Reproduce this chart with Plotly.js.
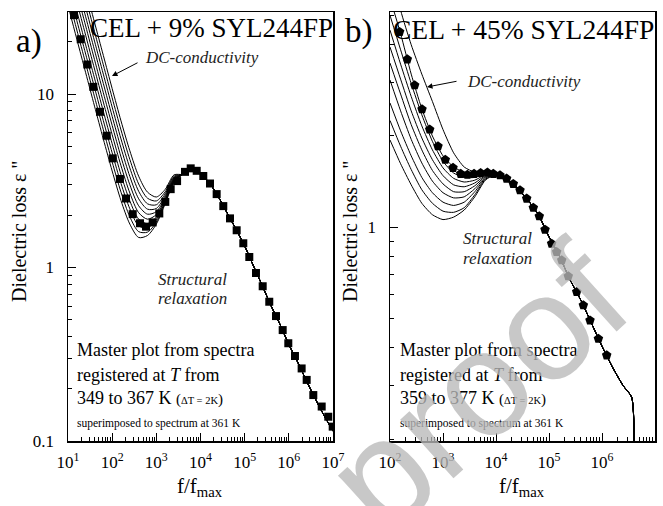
<!DOCTYPE html>
<html>
<head>
<meta charset="utf-8">
<script src="https://cdn.plot.ly/plotly-3.0.1.min.js"></script>
<style>html,body{margin:0;padding:0;background:#fff;}#chart{width:663px;height:506px;}</style>
</head>
<body>
<div id="chart"></div>
<script>
// ---------------- DATA ----------------
// Panel a) CEL + 9% SYL244FP : master curve (squares)
const aMasterX = [13.7, 19.4, 27.4, 37.4, 53.0, 75.2, 103, 150, 206, 292, 427, 583, 828, 1167, 1596, 2113, 2951, 4457, 5998, 8204, 11561, 16406, 23227, 32810, 46559, 65917, 93111, 127350, 180300, 255860, 360580, 511690, 726110, 972800, 1377200, 1949800, 2535000, 3581000, 5546000, 7816000, 9840000];
const aMasterY = [28.5, 20.7, 14.8, 11.0, 7.9, 5.75, 4.26, 3.24, 2.50, 2.03, 1.80, 1.72, 1.82, 2.05, 2.39, 2.83, 3.15, 3.56, 3.73, 3.61, 3.37, 3.05, 2.65, 2.26, 1.92, 1.64, 1.38, 1.15, 0.93, 0.78, 0.635, 0.525, 0.436, 0.366, 0.309, 0.262, 0.225, 0.184, 0.158, 0.138, 0.121];
// Panel a) individual spectra (349 ... 367 K): low-frequency part per spectrum
const aSpecX = [10, 15.85, 25.12, 39.81, 63.1, 100, 158.5, 251.2, 398.1, 631, 1000, 1585, 2512];
const aSpec349 = [32.4, 20.7, 13.27, 8.52, 5.50, 3.60, 2.43, 1.78, 1.49, 1.53, 1.78, 2.33, 3.10];
const aSpec351 = [36.6, 23.4, 15.0, 9.64, 6.22, 4.06, 2.72, 1.96, 1.61, 1.60, 1.83, 2.36, 3.12];
const aSpec353 = [41.5, 26.5, 17.0, 10.91, 7.03, 4.58, 3.05, 2.18, 1.74, 1.69, 1.89, 2.40, 3.15];
const aSpec355 = [47.0, 30.1, 19.2, 12.35, 7.95, 5.17, 3.43, 2.42, 1.90, 1.79, 1.95, 2.44, 3.17];
const aSpec357 = [53.2, 34.0, 21.8, 13.95, 8.99, 5.83, 3.86, 2.69, 2.07, 1.90, 2.02, 2.48, 3.20];
const aSpec359 = [60.3, 38.5, 24.7, 15.8, 10.17, 6.59, 4.34, 3.00, 2.27, 2.03, 2.10, 2.53, 3.23];
const aSpec361 = [68.2, 43.6, 27.9, 17.9, 11.51, 7.44, 4.89, 3.35, 2.49, 2.17, 2.19, 2.59, 3.27];
const aSpec363 = [77.3, 49.4, 31.6, 20.2, 13.02, 8.41, 5.51, 3.75, 2.75, 2.33, 2.30, 2.66, 3.31];
const aSpec365 = [87.5, 56.0, 35.8, 22.9, 14.74, 9.51, 6.21, 4.20, 3.03, 2.51, 2.42, 2.73, 3.36];
const aSpec367 = [99.1, 63.4, 40.6, 25.9, 16.7, 10.75, 7.00, 4.71, 3.36, 2.72, 2.55, 2.82, 3.42];
// Panel a) shared high-frequency (structural relaxation) part of all spectra
const aTailX = [3981, 6310, 10000, 15849, 25119, 39811, 63096, 100000, 158489, 251189, 398107, 630957, 1000000, 1584893, 2511886, 3981072, 6309573, 10000000];
const aTailY = [3.45, 3.72, 3.48, 3.08, 2.57, 2.07, 1.67, 1.33, 1.02, 0.785, 0.60, 0.47, 0.36, 0.285, 0.222, 0.175, 0.14, 0.114];

// Panel b) CEL + 45% SYL244FP : master curve (pentagons)
const bMasterX = [152, 212, 292, 402, 561, 805, 1104, 1545, 2158, 2884, 3855, 5129, 6887, 8892, 11885, 15849, 21184, 28379, 37931, 50582, 65615, 84140, 112200, 139640, 173780, 231200, 333430, 444630, 594300, 855100, 1227000];
const bMasterY = [4.41, 3.58, 2.94, 2.45, 2.10, 1.85, 1.67, 1.57, 1.50, 1.49, 1.50, 1.51, 1.515, 1.50, 1.485, 1.447, 1.39, 1.325, 1.243, 1.16, 1.087, 0.982, 0.883, 0.829, 0.778, 0.689, 0.612, 0.553, 0.493, 0.429, 0.378];
// Panel b) individual spectra (359 ... 377 K): low-frequency part per spectrum
const bSpecX = [100, 158.5, 251.2, 398.1, 631, 1000, 1585, 2512, 3981, 6310];
const bSpec359 = [1.94, 1.62, 1.38, 1.20, 1.10, 1.06, 1.08, 1.14, 1.26, 1.43];
const bSpec361 = [2.25, 1.85, 1.55, 1.33, 1.20, 1.13, 1.12, 1.16, 1.28, 1.44];
const bSpec363 = [2.57, 2.08, 1.72, 1.46, 1.30, 1.21, 1.18, 1.21, 1.31, 1.45];
const bSpec365 = [3.06, 2.42, 1.95, 1.63, 1.42, 1.30, 1.25, 1.26, 1.34, 1.46];
const bSpec367 = [3.48, 2.75, 2.18, 1.80, 1.54, 1.39, 1.31, 1.31, 1.37, 1.47];
const bSpec369 = [3.93, 3.08, 2.42, 1.97, 1.67, 1.48, 1.38, 1.36, 1.40, 1.48];
const bSpec371 = [4.47, 3.45, 2.70, 2.16, 1.80, 1.57, 1.45, 1.41, 1.43, 1.49];
const bSpec373 = [5.0, 3.85, 2.98, 2.35, 1.92, 1.65, 1.51, 1.46, 1.46, 1.50];
const bSpec375 = [5.7, 4.35, 3.2, 2.46, 2.0, 1.72, 1.58, 1.52, 1.50, 1.51];
const bSpec377 = [7.5, 5.2, 4.0, 3.2, 2.6, 2.1, 1.76, 1.58, 1.52, 1.515];
// Panel b) shared high-frequency part
const bTailX = [10000, 15849, 25119, 39811, 63096, 100000, 158489, 251189, 398107, 630957, 1000000, 1584893, 2511886, 3630781, 4073803];
const bTailY = [1.495, 1.447, 1.35, 1.23, 1.10, 0.93, 0.80, 0.67, 0.575, 0.483, 0.405, 0.345, 0.30, 0.275, 0.15];

// Tick labels
const aXTickVals = [1e1, 1e2, 1e3, 1e4, 1e5, 1e6, 1e7];
const aXTickText = ['10<sup>1</sup>', '10<sup>2</sup>', '10<sup>3</sup>', '10<sup>4</sup>', '10<sup>5</sup>', '10<sup>6</sup>', '10<sup>7</sup>'];
const bXTickVals = [1e2, 1e3, 1e4, 1e5, 1e6, 1e7];
const bXTickText = ['10<sup>2</sup>', '10<sup>3</sup>', '10<sup>4</sup>', '10<sup>5</sup>', '10<sup>6</sup>', '10<sup>7</sup>'];
const aYTickVals = [0.1, 1, 10];
const aYTickText = ['0.1', '1', '10'];
const bYTickVals = [1];
const bYTickText = ['1'];

// ---------------- FIGURE ----------------
const W = 663, H = 506;
const FONT = 'Liberation Serif, Times New Roman, serif';
const SANS = 'Liberation Sans, Arial, sans-serif';
const px = v => v / W;
const py = v => 1 - v / H;

function minorDecades(d0, d1) {
  const out = [];
  for (let d = d0; d <= d1; d++) for (let k = 2; k <= 9; k++) out.push(k * Math.pow(10, d));
  return out;
}

const traces = [];
const aSpecs = [aSpec349, aSpec351, aSpec353, aSpec355, aSpec357, aSpec359, aSpec361, aSpec363, aSpec365, aSpec367];
aSpecs.forEach(s => traces.push({
  x: aSpecX.concat(aTailX), y: s.concat(aTailY), xaxis: 'x', yaxis: 'y',
  mode: 'lines', line: {color: '#000', width: 1, shape: 'spline', smoothing: 0.8}, hoverinfo: 'skip'
}));
traces.push({x: aMasterX, y: aMasterY, xaxis: 'x', yaxis: 'y', mode: 'markers',
  marker: {symbol: 'square', size: 8, color: '#000', line: {width: 0}}});

const bSpecs = [bSpec359, bSpec361, bSpec363, bSpec365, bSpec367, bSpec369, bSpec371, bSpec373, bSpec375, bSpec377];
bSpecs.forEach(s => traces.push({
  x: bSpecX.concat(bTailX), y: s.concat(bTailY), xaxis: 'x2', yaxis: 'y2',
  mode: 'lines', line: {color: '#000', width: 1, shape: 'spline', smoothing: 0.6}, hoverinfo: 'skip'
}));
traces.push({x: bMasterX, y: bMasterY, xaxis: 'x2', yaxis: 'y2', mode: 'markers',
  marker: {symbol: 'pentagon', size: 10, color: '#000', line: {width: 0}}});

function axisBase(extra) {
  return Object.assign({
    type: 'log', showline: true, linecolor: '#000', linewidth: 1.5, mirror: true,
    ticks: 'inside', ticklen: 8, tickwidth: 1, tickcolor: '#000',
    tickmode: 'array', showgrid: false, zeroline: false,
    tickfont: {family: FONT, size: 17, color: '#000'}
  }, extra);
}

const yd = [py(441), py(12)];
const layout = {
  width: W, height: H, margin: {l: 0, r: 0, t: 0, b: 0},
  paper_bgcolor: '#fff', plot_bgcolor: '#fff', showlegend: false, hovermode: false,
  font: {family: FONT, color: '#000'},
  xaxis: axisBase({domain: [px(68), px(333)], range: [1, 7], anchor: 'y',
    tickvals: aXTickVals, ticktext: aXTickText, ticklabelstandoff: 5,
    minor: {ticks: 'inside', ticklen: 4, tickwidth: 1, tickcolor: '#000', tickmode: 'array', tickvals: minorDecades(1, 6), showgrid: false}}),
  yaxis: axisBase({domain: yd, range: [-1, 1.473], anchor: 'x',
    tickvals: aYTickVals, ticktext: aYTickText, ticklabelstandoff: 9,
    minor: {ticks: 'inside', ticklen: 4, tickwidth: 1, tickcolor: '#000', tickmode: 'array', tickvals: minorDecades(-1, 0).concat([20]), showgrid: false}}),
  xaxis2: axisBase({domain: [px(390), px(655)], range: [2, 7], anchor: 'y2',
    tickvals: bXTickVals, ticktext: bXTickText, ticklabelstandoff: 5,
    minor: {ticks: 'inside', ticklen: 4, tickwidth: 1, tickcolor: '#000', tickmode: 'array', tickvals: minorDecades(2, 6), showgrid: false}}),
  yaxis2: axisBase({domain: yd, range: [-0.705, 0.71], anchor: 'x2',
    tickvals: bYTickVals, ticktext: bYTickText, ticklabelstandoff: 9,
    minor: {ticks: 'inside', ticklen: 4, tickwidth: 1, tickcolor: '#000', tickmode: 'array', tickvals: minorDecades(-1, -1).concat([2, 3, 4, 5]), showgrid: false}}),
  annotations: []
};

function txt(t, x, y, size, opts) {
  layout.annotations.push(Object.assign({
    text: t, x: px(x), y: py(y), xref: 'paper', yref: 'paper', showarrow: false,
    xanchor: 'center', yanchor: 'middle', font: {family: FONT, size: size, color: '#000'}
  }, opts || {}));
}

// panel labels and titles
txt('a)', 29, 42, 33);
txt('b)', 359, 32, 33);
txt('CEL + 9% SYL244FP', 211, 28, 27);
txt('CEL + 45% SYL244FP', 523, 29, 27.5);

// DC-conductivity labels with arrows
txt('<i>DC-conductivity</i>', 143, 57, 17, {xanchor: 'left', font: {family: FONT, size: 17, color: '#222'}});
txt('<i>DC-conductivity</i>', 465, 82, 17, {xanchor: 'left', font: {family: FONT, size: 17, color: '#222'}});
layout.annotations.push({x: px(112), y: py(76), xref: 'paper', yref: 'paper', text: '', showarrow: true,
  ax: 27, ay: -14, arrowhead: 2, arrowsize: 1.1, arrowwidth: 1, arrowcolor: '#000'});
layout.annotations.push({x: px(427), y: py(87), xref: 'paper', yref: 'paper', text: '', showarrow: true,
  ax: 31, ay: -6, arrowhead: 2, arrowsize: 1.1, arrowwidth: 1, arrowcolor: '#000'});

// Structural relaxation labels
const ital = {font: {family: FONT, size: 17, color: '#222'}};
txt('<i>Structural</i>', 192, 279, 17, ital);
txt('<i>relaxation</i>', 192, 298, 17, ital);
txt('<i>Structural</i>', 497, 239, 17, ital);
txt('<i>relaxation</i>', 497, 258, 17, ital);

// Master plot description
function block(x0, tRange) {
  const L = {xanchor: 'left'};
  txt('Master plot from spectra', x0, 350, 18, L);
  txt('registered at <i>T</i> from', x0, 375, 18, L);
  txt(tRange + ' <span style="font-size:15px">(</span><span style="font-size:10.5px">ΔT = 2K</span><span style="font-size:15px">)</span>', x0, 398, 18, L);
  txt('superimposed to spectrum at 361 K', x0, 423, 11.5, L);
}
block(75, '349 to 367 K');
block(398, '359 to 377 K');

// axis titles
txt('Dielectric loss ε "', 19, 231, 20, {textangle: -90});
txt('Dielectric loss ε "', 350, 231, 20, {textangle: -90});
txt('f/f<sub>max</sub>', 200, 487, 21);
txt('f/f<sub>max</sub>', 522, 487, 21);

// watermark (semi-transparent, over the chart as in the reference)
layout.annotations.push({text: 'proof', x: px(476), y: py(388), xref: 'paper', yref: 'paper', showarrow: false,
  xanchor: 'center', yanchor: 'middle', textangle: -42,
  font: {family: SANS, size: 150, color: 'rgba(185,185,185,0.78)'}});

Plotly.newPlot('chart', traces, layout, {staticPlot: true, displayModeBar: false});
</script>
</body>
</html>
